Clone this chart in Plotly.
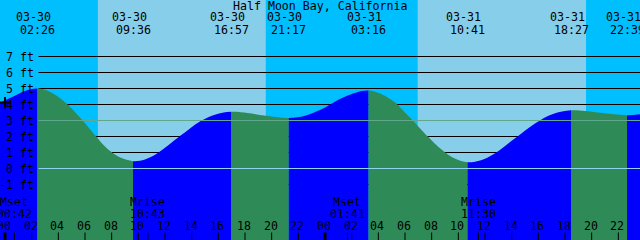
import plotly.graph_objects as go

# ---------------- data ----------------
title_text = "Half Moon Bay, California"

event_days = [0, 0, 0, 0, 1, 1, 1, 1]
event_dates = ["03-30", "03-30", "03-30", "03-30", "03-31", "03-31", "03-31", "03-31"]
event_times = ["02:26", "09:36", "16:57", "21:17", "03:16", "10:41", "18:27", "22:39"]
event_kind = ["H", "L", "H", "L", "H", "L", "H", "L"]

# tide curve readings (hours since 03-30 00:00, feet)
curve_hours = [-0.375, 0.5, 1.5, 2.43, 3.4, 4.63, 5.87, 6.88, 7.65, 8.65, 9.6, 10.5,
               11.4, 13.15, 14.65, 15.68, 16.95, 18.2, 19.43, 21.28, 22.5, 23.7,
               25.45, 27.27, 28.95, 30.2, 31.73, 32.72, 33.73, 34.68, 35.7, 36.73,
               38.23, 39.75, 41.1, 42.45, 43.5, 44.6, 46.65, 47.625]
curve_ft = [4.1, 4.45, 4.85, 5.0, 4.78, 4.05, 2.95, 1.95, 1.25, 0.68, 0.46, 0.56,
            0.93, 2.04, 2.95, 3.35, 3.54, 3.47, 3.31, 3.16, 3.3, 3.68,
            4.47, 4.87, 4.31, 3.33, 1.98, 1.2, 0.62, 0.39, 0.52, 0.94,
            1.88, 2.82, 3.41, 3.64, 3.59, 3.48, 3.33, 3.39]

sun_days = [0, 0, 1, 1]
sun_times = ["06:58", "19:34", "06:57", "19:35"]

moon_days = [0, 0, 1, 1]
moon_labels = ["Mset", "Mrise", "Mset", "Mrise"]
moon_times = ["00:42", "10:43", "01:41", "11:30"]

ft_ticks = [-1, 0, 1, 2, 3, 4, 5, 6, 7]
ft_tick_labels = ["-1 ft", "0 ft", "1 ft", "2 ft", "3 ft", "4 ft", "5 ft", "6 ft", "7 ft"]
hour_ticks = list(range(0, 48, 2))
hour_tick_labels = ["00", "02", "04", "06", "08", "10", "12", "14", "16", "18", "20", "22",
                    "00", "02", "04", "06", "08", "10", "12", "14", "16", "18", "20", "22"]
midnights = [0, 24]

msl_ft = 3.0
datum_ft = 0.0
now_hour = [0.0]
now_ft = [4.12]

# ---------------- styling ----------------
W, H = 640, 240
X0, X1 = -0.375, 47.625
Y1 = 168.5 / 16.0
Y0 = -71.5 / 16.0
NIGHT = "#00BFFF"
DAY = "#87CEEB"
EBB = "#2E8B57"
FLOOD = "#0000FF"
MSL_COLOR = "#5FA88E"
DATUM_COLOR = "#8FD4F2"
FONT = dict(family="DejaVu Sans Mono", size=11.6, color="black")


def hrs(day, hhmm):
    h, m = hhmm.split(":")
    return day * 24 + int(h) + int(m) / 60.0


def py(px):
    return 1 - px / H


event_hours = [hrs(d, t) for d, t in zip(event_days, event_times)]
sun_hours = [hrs(d, t) for d, t in zip(sun_days, sun_times)]
moon_hours = [hrs(d, t) for d, t in zip(moon_days, moon_times)]

fig = go.Figure()

# main full-width axis "x" (sky, marks, labels)
layout_axes = {"xaxis": dict(range=[X0, X1], domain=[0, 1], visible=False, fixedrange=True)}
fig.add_trace(go.Scatter(x=[X0, X1], y=[Y0 - 1, Y0 - 1], mode="lines", xaxis="x",
                         line=dict(width=0), hoverinfo="skip"))

# ebb / flood segments: one clipped copy of the tide fill per segment,
# each on its own x axis whose domain covers just that segment
bounds = [X0] + event_hours + [X1]
seg_colors = [FLOOD if event_kind[0] == "H" else EBB]
for k in event_kind:
    seg_colors.append(EBB if k == "H" else FLOOD)
span = X1 - X0
n = 1
for i, c in enumerate(seg_colors):
    a, b = bounds[i], bounds[i + 1]
    n = i + 2
    layout_axes["xaxis%d" % n] = dict(range=[a, b], domain=[(a - X0) / span, (b - X0) / span],
                                      anchor="y", visible=False, fixedrange=True)
    ax_name = "x%d" % n
    fig.add_trace(go.Scatter(x=[X0, X1], y=[Y0 - 1, Y0 - 1], mode="lines", xaxis=ax_name,
                             line=dict(width=0), hoverinfo="skip"))
    fig.add_trace(go.Scatter(x=curve_hours, y=curve_ft, mode="lines", xaxis=ax_name,
                             line=dict(width=0, shape="spline", smoothing=1.0),
                             fill="tonexty", fillcolor=c, hoverinfo="skip"))

# top full-width axis for the "now" marker so it sits above the water fill
n_top = n + 1
layout_axes["xaxis%d" % n_top] = dict(range=[X0, X1], domain=[0, 1], anchor="y",
                                      visible=False, fixedrange=True)
fig.add_trace(go.Scatter(x=now_hour, y=now_ft, mode="markers", xaxis="x%d" % n_top,
                         marker=dict(symbol="cross-thin", size=8,
                                     line=dict(width=2, color="black")),
                         cliponaxis=False, hoverinfo="skip"))

shapes = []
sky_b = [X0] + sun_hours + [X1]
for i in range(len(sky_b) - 1):
    shapes.append(dict(type="rect", xref="x", yref="paper", x0=sky_b[i], x1=sky_b[i + 1],
                       y0=0, y1=1, fillcolor=NIGHT if i % 2 == 0 else DAY,
                       line=dict(width=0), layer="below"))
for v in ft_ticks:
    shapes.append(dict(type="line", xref="paper", yref="y", x0=38.5 / W, x1=1, y0=v, y1=v,
                       line=dict(color="black", width=1), layer="below"))
for v, c in [(msl_ft, MSL_COLOR), (datum_ft, DATUM_COLOR)]:
    shapes.append(dict(type="line", xref="paper", yref="y", x0=38.5 / W, x1=1, y0=v, y1=v,
                       line=dict(color=c, width=1), layer="above"))
for h in hour_ticks:
    shapes.append(dict(type="line", xref="x", yref="paper", x0=h, x1=h, y0=0, y1=7.5 / H,
                       line=dict(color="black", width=3 if h in midnights else 1),
                       layer="above"))
for h in moon_hours:
    shapes.append(dict(type="line", xref="x", yref="paper", x0=h, x1=h, y0=0, y1=7.5 / H,
                       line=dict(color="black", width=1), layer="above"))

ann = []
ann.append(dict(text=title_text, x=0.5, y=py(6), xref="paper", yref="paper",
                xanchor="center", yanchor="middle", showarrow=False, font=FONT))
for h, d, t in zip(event_hours, event_dates, event_times):
    ann.append(dict(text=d, x=h, y=py(17.5), xref="x", yref="paper", xshift=-4,
                    xanchor="center", yanchor="middle", showarrow=False, font=FONT))
    ann.append(dict(text=t, x=h, y=py(30), xref="x", yref="paper",
                    xanchor="center", yanchor="middle", showarrow=False, font=FONT))
for v, lab in zip(ft_ticks, ft_tick_labels):
    ann.append(dict(text=lab, x=36 / W, y=v, xref="paper", yref="y",
                    xanchor="right", yanchor="middle", showarrow=False, font=FONT))
for h, lab, t in zip(moon_hours, moon_labels, moon_times):
    ann.append(dict(text=lab, x=h, y=py(202), xref="x", yref="paper",
                    xanchor="center", yanchor="middle", showarrow=False, font=FONT))
    ann.append(dict(text=t, x=h, y=py(213.5), xref="x", yref="paper",
                    xanchor="center", yanchor="middle", showarrow=False, font=FONT))
for h, lab in zip(hour_ticks, hour_tick_labels):
    ann.append(dict(text=lab, x=h, y=py(226), xref="x", yref="paper", xshift=-1,
                    xanchor="center", yanchor="middle", showarrow=False, font=FONT))

fig.update_layout(
    width=W, height=H, margin=dict(l=0, r=0, t=0, b=0, pad=0),
    paper_bgcolor=NIGHT, plot_bgcolor="rgba(0,0,0,0)", showlegend=False, hovermode=False,
    yaxis=dict(range=[Y0, Y1], visible=False, fixedrange=True, anchor="x"),
    shapes=shapes, annotations=ann,
    **layout_axes,
)
fig.write_html("out.html", config={"displayModeBar": False})
